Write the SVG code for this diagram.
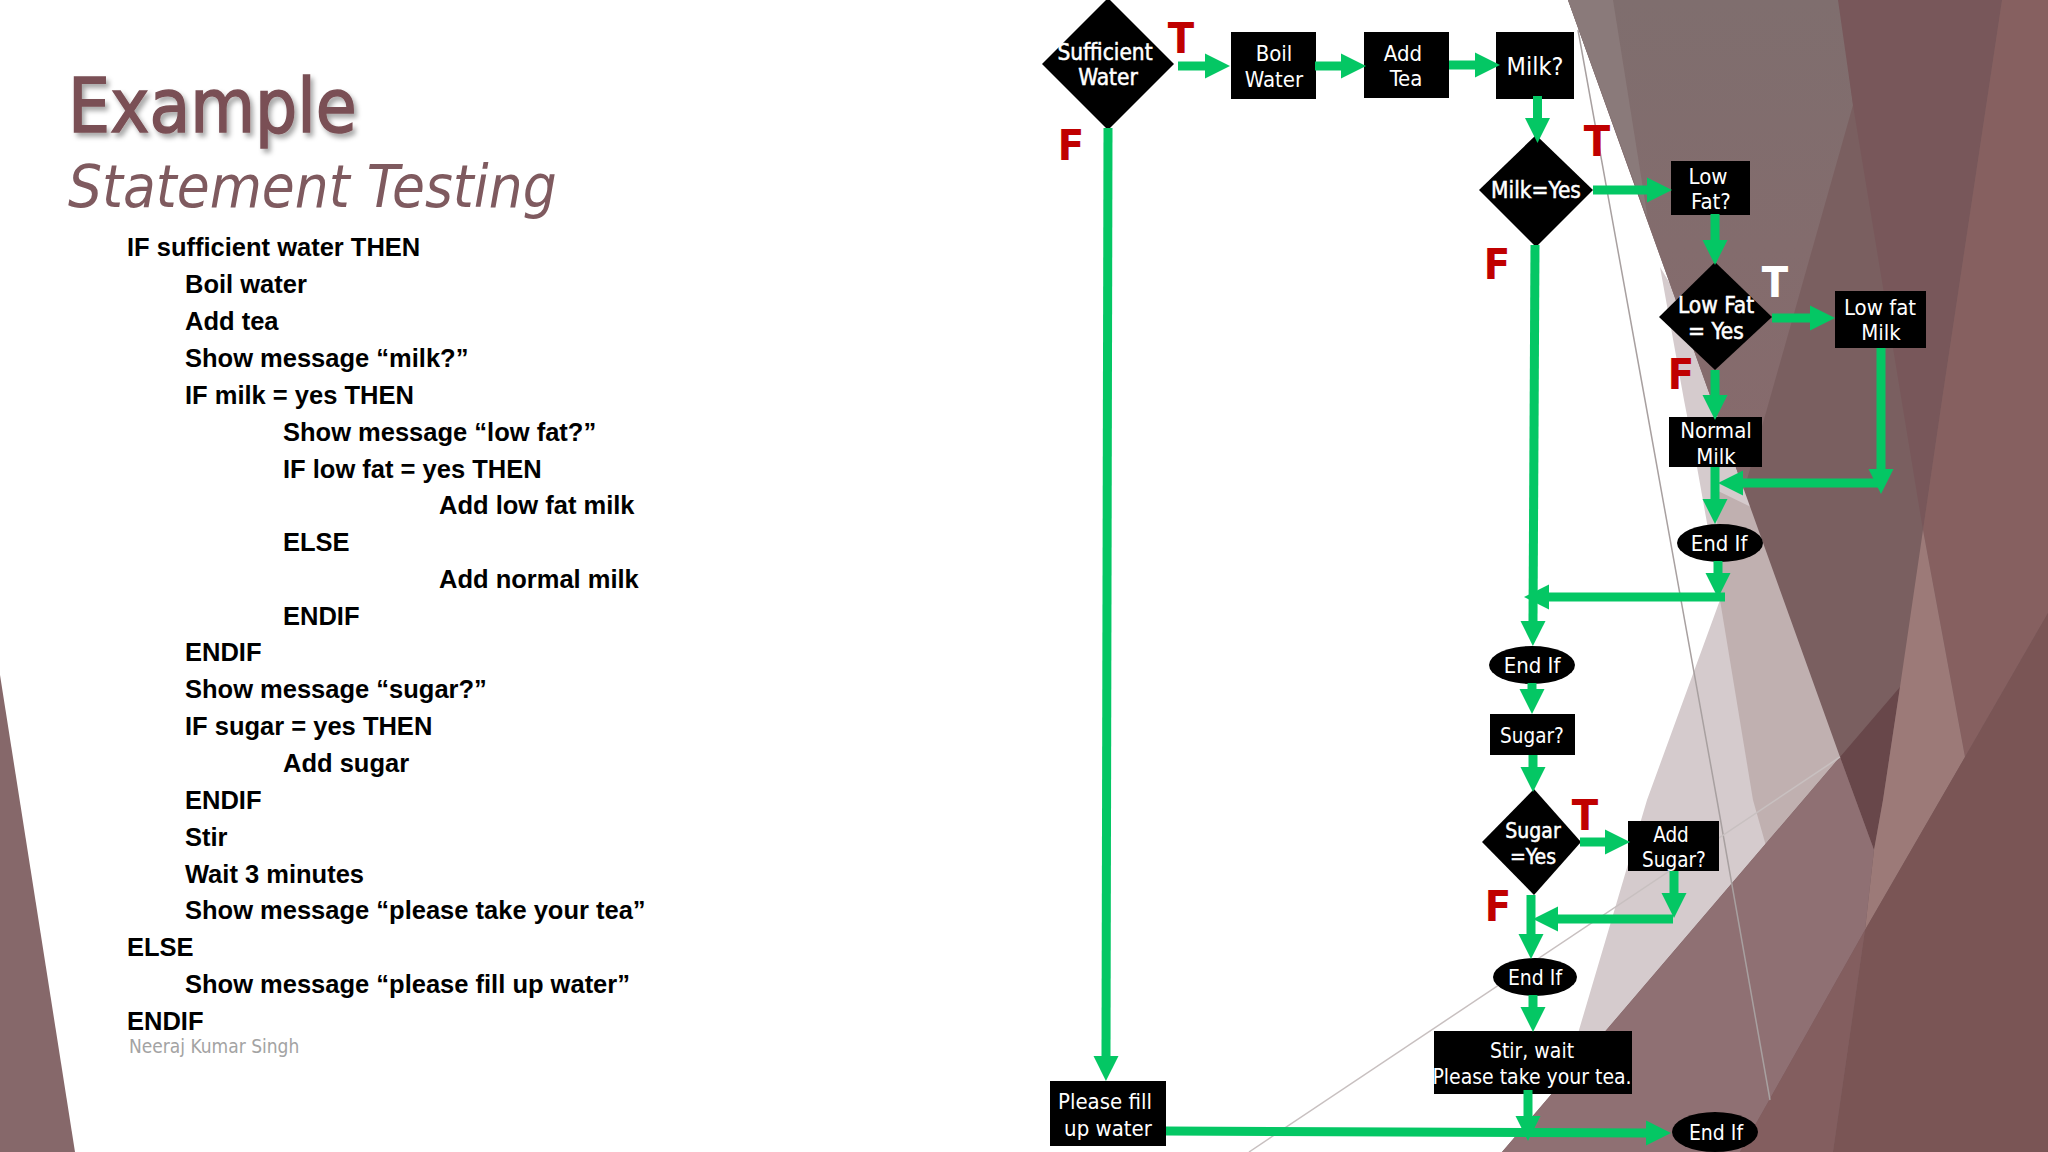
<svg xmlns="http://www.w3.org/2000/svg" width="2048" height="1152" viewBox="0 0 2048 1152">
<style>
.code{font-family:"Liberation Sans",Arial,sans-serif;font-weight:700;font-size:25.500px;fill:#000}
.n{font-family:"DejaVu Sans Condensed","Noto Sans",sans-serif;font-size:22px;fill:#fff;text-anchor:middle}
.b{font-size:22.500px;stroke:#fff;stroke-width:.5px}
.lab{font-family:"DejaVu Sans Condensed","Noto Sans",sans-serif;font-weight:700;font-size:43px;fill:#c00000;text-anchor:middle}
.c{fill:none;stroke:#04c764;stroke-width:9;marker-end:url(#ah)}
.k{fill:#000}
</style>
<defs>
<marker id="ah" markerUnits="userSpaceOnUse" markerWidth="26" markerHeight="28" refX="0" refY="14" orient="auto"><path d="M0,1.500L25,14L0,26.500Z" fill="#04c764"/></marker>
<filter id="sh" x="-5%" y="-10%" width="112%" height="130%"><feDropShadow dx="3" dy="4" stdDeviation="2.500" flood-color="#000" flood-opacity="0.35"/></filter>
<linearGradient id="g1" x1="0" y1="0" x2="0" y2="1"><stop offset="0" stop-color="#7f6e6e"/><stop offset="1" stop-color="#876a6c"/></linearGradient>
</defs>
<rect width="2048" height="1152" fill="#fff"/>
<g id="background">
<polygon points="0,675 75,1152 0,1152" fill="#86686a"/>
<polygon points="1660,267 1684,400 1697,467 1707,523 1720,600 1647,800 1579,1030 1540,1152 1800,800 1800,500" fill="#d5cbcd"/>
<polygon points="1720,600 1753,800 1770,860 1860,780 1860,560 1716,490" fill="#c0b0b0"/>
<polygon points="1568,0 2048,0 2048,1152 1502,1152 1840,757" fill="#7a5f60"/>
<polygon points="1568,0 1840,0 1853,105 1744,490" fill="url(#g1)"/>
<polygon points="1568,0 1613,0 1648,220" fill="#8a7a7a"/>
<polygon points="1838,0 2002,0 1942,400 1923,530 1853,105" fill="#78575a"/>
<polygon points="2002,0 2048,0 2048,613 1965,757 1923,530 1942,400" fill="#866060"/>
<polygon points="1840,757 1900,687 1883,800 1874,850" fill="#68474a"/>
<polygon points="1923,530 1965,757 1865,930 1874,850 1883,800 1900,687" fill="#9c7a78"/>
<polygon points="2048,613 1965,757 1865,930 1833,1152 2048,1152" fill="#7a5555"/>
<polygon points="1840,757 1874,850 1865,930 1740,1152 1502,1152" fill="#8f7073"/>
<polygon points="1865,930 1833,1152 1740,1152" fill="#835e5f"/>
<path d="M1578,30L1645,400L1717,800L1770,1100" fill="none" stroke="#a8a0a0" stroke-width="1.500"/>
<path d="M1840,757L1249,1152" fill="none" stroke="#c8c0c0" stroke-width="1.500"/>
</g>
<g id="titles">
<text x="68" y="132" filter="url(#sh)" font-family="DejaVu Sans Condensed,Noto Sans,sans-serif" font-size="74" fill="#7a5055" stroke="#7a5055" stroke-width="1.500">Example</text>
<text x="68" y="207" font-family="DejaVu Sans Condensed,Noto Sans,sans-serif" font-style="italic" font-size="59.500" fill="#7f5a5f">Statement Testing</text>
</g>
<g id="pseudocode">
<text class="code" x="127" y="256">IF sufficient water THEN</text>
<text class="code" x="185" y="293">Boil water</text>
<text class="code" x="185" y="330">Add tea</text>
<text class="code" x="185" y="367">Show message “milk?”</text>
<text class="code" x="185" y="404">IF milk = yes THEN</text>
<text class="code" x="283" y="441">Show message “low fat?”</text>
<text class="code" x="283" y="478">IF low fat = yes THEN</text>
<text class="code" x="439" y="514">Add low fat milk</text>
<text class="code" x="283" y="551">ELSE</text>
<text class="code" x="439" y="588">Add normal milk</text>
<text class="code" x="283" y="625">ENDIF</text>
<text class="code" x="185" y="661">ENDIF</text>
<text class="code" x="185" y="698">Show message “sugar?”</text>
<text class="code" x="185" y="735">IF sugar = yes THEN</text>
<text class="code" x="283" y="772">Add sugar</text>
<text class="code" x="185" y="809">ENDIF</text>
<text class="code" x="185" y="846">Stir</text>
<text class="code" x="185" y="883">Wait 3 minutes</text>
<text class="code" x="185" y="919">Show message “please take your tea”</text>
<text class="code" x="127" y="956">ELSE</text>
<text class="code" x="185" y="993">Show message “please fill up water”</text>
<text class="code" x="127" y="1030">ENDIF</text>
<text x="129" y="1053" font-family="DejaVu Sans Condensed,Noto Sans,sans-serif" font-size="19" fill="#a3a3a3">Neeraj Kumar Singh</text>
</g>
<g id="n-sufficient"><polygon class="k" points="1108,-2 1174,64 1108,130 1042,64"/><text class="n b" x="1105" y="60">Sufficient</text><text class="n b" x="1108" y="85">Water</text></g>
<g id="n-boil"><rect class="k" x="1231" y="32" width="85" height="67"/><text class="n" x="1274" y="61">Boil</text><text class="n" x="1274" y="87">Water</text></g>
<g id="n-tea"><rect class="k" x="1364" y="32" width="85" height="66"/><text class="n" x="1403" y="61">Add</text><text class="n" x="1406" y="86">Tea</text></g>
<g id="n-milk"><rect class="k" x="1496" y="32" width="78" height="67"/><text class="n" x="1535" y="75" style="font-size:25px">Milk?</text></g>
<g id="n-milkyes"><polygon class="k" points="1536,135 1593,190 1536,247 1479,190"/><text class="n b" x="1536" y="198">Milk=Yes</text></g>
<g id="n-lowfatq"><rect class="k" x="1671" y="161" width="79" height="54"/><text class="n" x="1708" y="184">Low</text><text class="n" x="1711" y="209">Fat?</text></g>
<g id="n-lowfatyes"><polygon class="k" points="1715,262 1772,317 1715,370 1659,317"/><text class="n b" x="1716" y="313">Low Fat</text><text class="n b" x="1716" y="339">= Yes</text></g>
<g id="n-lowfatmilk"><rect class="k" x="1835" y="291" width="91" height="57"/><text class="n" x="1880" y="315">Low fat</text><text class="n" x="1881" y="340">Milk</text></g>
<g id="n-normal"><rect class="k" x="1669" y="417" width="93" height="50"/><text class="n" x="1716" y="438">Normal</text><text class="n" x="1716" y="464">Milk</text></g>
<g id="n-endif1"><ellipse class="k" cx="1720" cy="543" rx="43" ry="19"/><text class="n" x="1719" y="551">End If</text></g>
<g id="n-endif2"><ellipse class="k" cx="1532" cy="665" rx="43" ry="19"/><text class="n" x="1532" y="673">End If</text></g>
<g id="n-sugarq"><rect class="k" x="1490" y="714" width="85" height="41"/><text class="n" x="1532" y="743" style="font-size:20.500px">Sugar?</text></g>
<g id="n-sugaryes"><polygon class="k" points="1534,789 1581,842 1534,895 1482,842"/><text class="n b" x="1533" y="838" style="font-size:21px">Sugar</text><text class="n b" x="1533" y="864" style="font-size:21px">=Yes</text></g>
<g id="n-addsugar"><rect class="k" x="1628" y="821" width="91" height="50"/><text class="n" x="1671" y="842" style="font-size:20.500px">Add</text><text class="n" x="1674" y="867" style="font-size:20.500px">Sugar?</text></g>
<g id="n-endif3"><ellipse class="k" cx="1535" cy="977" rx="42" ry="19"/><text class="n" x="1535" y="985" style="font-size:21px">End If</text></g>
<g id="n-stir"><rect class="k" x="1434" y="1031" width="198" height="63"/><text class="n" x="1532" y="1058" style="font-size:21px">Stir, wait</text><text class="n" x="1532" y="1084" style="font-size:21px">Please take your tea.</text></g>
<g id="n-fill"><rect class="k" x="1050" y="1081" width="116" height="65"/><text class="n" x="1105" y="1109">Please fill</text><text class="n" x="1108" y="1136">up water</text></g>
<g id="n-endif4"><ellipse class="k" cx="1715" cy="1132" rx="43" ry="20"/><text class="n" x="1716" y="1140" style="font-size:21px">End If</text></g>
<g id="labels">
<text class="lab" x="1181" y="53">T</text><text class="lab" x="1071" y="160">F</text>
<text class="lab" x="1597" y="156">T</text><text class="lab" x="1497" y="279">F</text>
<text class="lab" x="1775" y="297" style="fill:#fff">T</text><text class="lab" x="1681" y="389">F</text>
<text class="lab" x="1585" y="830">T</text><text class="lab" x="1498" y="921">F</text>
</g>
<g id="connectors">
<path class="c" d="M1178,66H1205"/>
<path class="c" d="M1315,66H1341"/>
<path class="c" d="M1449,65H1475"/>
<path class="c" d="M1537.500,96V118"/>
<path class="c" d="M1108,128L1106,1056"/>
<path class="c" d="M1593,190H1647"/>
<path class="c" d="M1535,245L1533,621"/>
<path class="c" d="M1715,214V240"/>
<path class="c" d="M1772,318H1810"/>
<path class="c" d="M1715,370V395"/>
<path class="c" d="M1881,348V469"/>
<path class="c" d="M1881,483H1743"/>
<path class="c" d="M1715,467V499"/>
<path class="c" d="M1718,561V573"/>
<path class="c" d="M1725,597H1549"/>
<path class="c" d="M1532,683V689"/>
<path class="c" d="M1533,755V767"/>
<path class="c" d="M1580,842H1605"/>
<path class="c" d="M1674,871V893"/>
<path class="c" d="M1673,919H1558"/>
<path class="c" d="M1531,895V934"/>
<path class="c" d="M1533,995V1007"/>
<path class="c" d="M1528,1090V1116"/>
<path class="c" d="M1166,1131L1646,1133"/>
</g>
</svg>
